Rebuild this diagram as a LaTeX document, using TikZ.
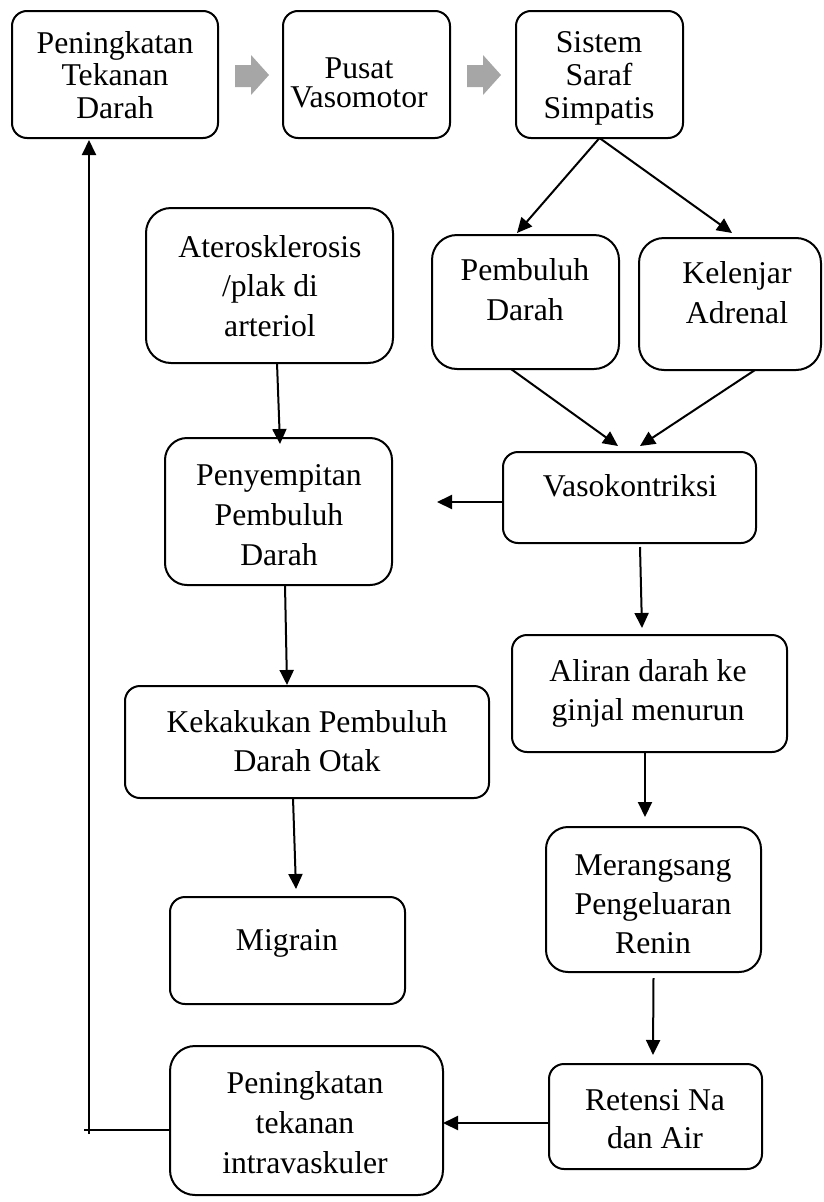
\documentclass[tikz,border=0pt]{standalone}
\usepackage{fontspec}
\setmainfont{Liberation Serif}
\usetikzlibrary{arrows.meta}
\newcommand{\mlines}[2]{\fontsize{31.7}{#1}\selectfont\begin{tabular}[t]{@{}c@{}}#2\end{tabular}}
\begin{document}
\begin{tikzpicture}[x=1pt,y=-1pt,
  box/.style={draw, line width=2pt, rounded corners=15pt, inner sep=0pt, outer sep=0pt},
  txt/.style={inner sep=0pt, anchor=base},
  conn/.style={line width=2pt, -{Triangle[length=15pt,width=14pt]}},
  plainline/.style={line width=1.6pt},
  block/.style={fill=black!35, draw=none}]
\useasboundingbox (0,0) rectangle (823,1202);

% boxes
\node[box, minimum width=206pt, minimum height=127pt] (b1) at (115,74.5) {};
\node[box, minimum width=167pt, minimum height=127pt] (b2) at (366.5,74.5) {};
\node[box, minimum width=167pt, minimum height=127pt] (b3) at (599.5,74.5) {};
\node[box, rounded corners=25pt, minimum width=187pt, minimum height=134pt] (pd) at (525.5,302) {};
\node[box, rounded corners=25pt, minimum width=182pt, minimum height=132pt] (ka) at (730,304) {};
\node[box, rounded corners=25pt, minimum width=247pt, minimum height=155pt] (at) at (269.5,285.5) {};
\node[box, minimum width=253pt, minimum height=91pt] (vk) at (629.5,497.5) {};
\node[box, rounded corners=22pt, minimum width=227pt, minimum height=147pt] (ps) at (278.5,511.5) {};
\node[box, minimum width=275pt, minimum height=117pt] (ad) at (649.5,693.5) {};
\node[box, minimum width=364pt, minimum height=112pt] (kk) at (307,742) {};
\node[box, minimum width=235pt, minimum height=107pt] (mg) at (287.5,950.5) {};
\node[box, rounded corners=22pt, minimum width=215pt, minimum height=145pt] (mr) at (653.5,899.5) {};
\node[box, minimum width=213pt, minimum height=105pt] (rn) at (655.5,1116.5) {};
\node[box, rounded corners=25pt, minimum width=273pt, minimum height=149pt] (pt) at (306.5,1120.5) {};

% texts
\node[txt] (t1) at (115,53) {\mlines{32.5}{Peningkatan\\Tekanan\\Darah}};
\node[txt] (t2) at (359,78) {\mlines{28}{Pusat\\Vasomotor}};
\node[txt] (t3) at (599,52) {\mlines{33}{Sistem\\Saraf\\Simpatis}};
\node[txt] (t4) at (525,280) {\mlines{40}{Pembuluh\\Darah}};
\node[txt] (t5) at (737,283) {\mlines{40}{Kelenjar\\Adrenal}};
\node[txt] (t6) at (270,257) {\mlines{39.5}{Aterosklerosis\\/plak di\\arteriol}};
\node[txt] (t7) at (630,496) {\mlines{39}{Vasokontriksi}};
\node[txt] (t8) at (279,485) {\mlines{40}{Penyempitan\\Pembuluh\\Darah}};
\node[txt] (t9) at (648,681) {\mlines{39}{Aliran darah ke\\ginjal menurun}};
\node[txt] (t10) at (307,732) {\mlines{39}{Kekakukan Pembuluh\\Darah Otak}};
\node[txt] (t11) at (287,950) {\mlines{39}{Migrain}};
\node[txt] (t12) at (653,875) {\mlines{39}{Merangsang\\Pengeluaran\\Renin}};
\node[txt] (t13) at (655,1110) {\mlines{38}{Retensi Na\\dan Air}};
\node[txt] (t14) at (305,1093) {\mlines{40}{Peningkatan\\tekanan\\intravaskuler}};

% gray block arrows
\fill[block] (235,65) -- (251,65) -- (251,55) -- (269,75) -- (251,95) -- (251,87) -- (235,87) -- cycle;
\fill[block] (467,65) -- (483,65) -- (483,55) -- (501,75) -- (483,95) -- (483,87) -- (467,87) -- cycle;

% connectors
\draw[conn] (b3.south) -- ([xshift=-8.5pt,yshift=2pt]pd.north);
\draw[conn] (b3.south) -- ([xshift=2pt,yshift=5pt]ka.north);
\draw[conn] ([xshift=-14.5pt]pd.south) -- ([xshift=-11.5pt,yshift=6pt]vk.north);
\draw[conn] ([xshift=25pt]ka.south) -- ([xshift=10.5pt,yshift=6pt]vk.north);
\coordinate (vkl) at (437,502);
\draw[conn] ([yshift=-4.5pt]vk.west) -- (vkl);
\draw[conn] ([xshift=7.5pt]at.south) -- ([xshift=1.5pt,yshift=-6pt]ps.north);
\draw[conn] ([xshift=6.5pt]ps.south) -- ([xshift=-20pt,yshift=1pt]kk.north);
\draw[conn] ([xshift=-14pt]kk.south) -- ([xshift=8.5pt,yshift=8pt]mg.north);
\draw[conn] ([xshift=10.5pt,yshift=-4pt]vk.south) -- ([xshift=-7.5pt,yshift=7pt]ad.north);
\draw[conn] ([xshift=-4.5pt]ad.south) -- ([xshift=-8.5pt,yshift=10pt]mr.north);
\draw[conn] ([yshift=-6pt]mr.south) -- ([xshift=-2.5pt,yshift=9pt]rn.north);
\draw[conn] ([yshift=-6.5pt]rn.west) -- ([yshift=-2.5pt]pt.east);
% feedback line
\coordinate (corner) at (89,1130);
\coordinate (cornerl) at (84,1130);
\coordinate (cornerb) at (89,1134);
\draw[plainline] ([yshift=-9.5pt]pt.west) -- (cornerl);
\draw[conn] (cornerb) -- ([xshift=-26pt,yshift=-2pt]b1.south);
\end{tikzpicture}
\end{document}
